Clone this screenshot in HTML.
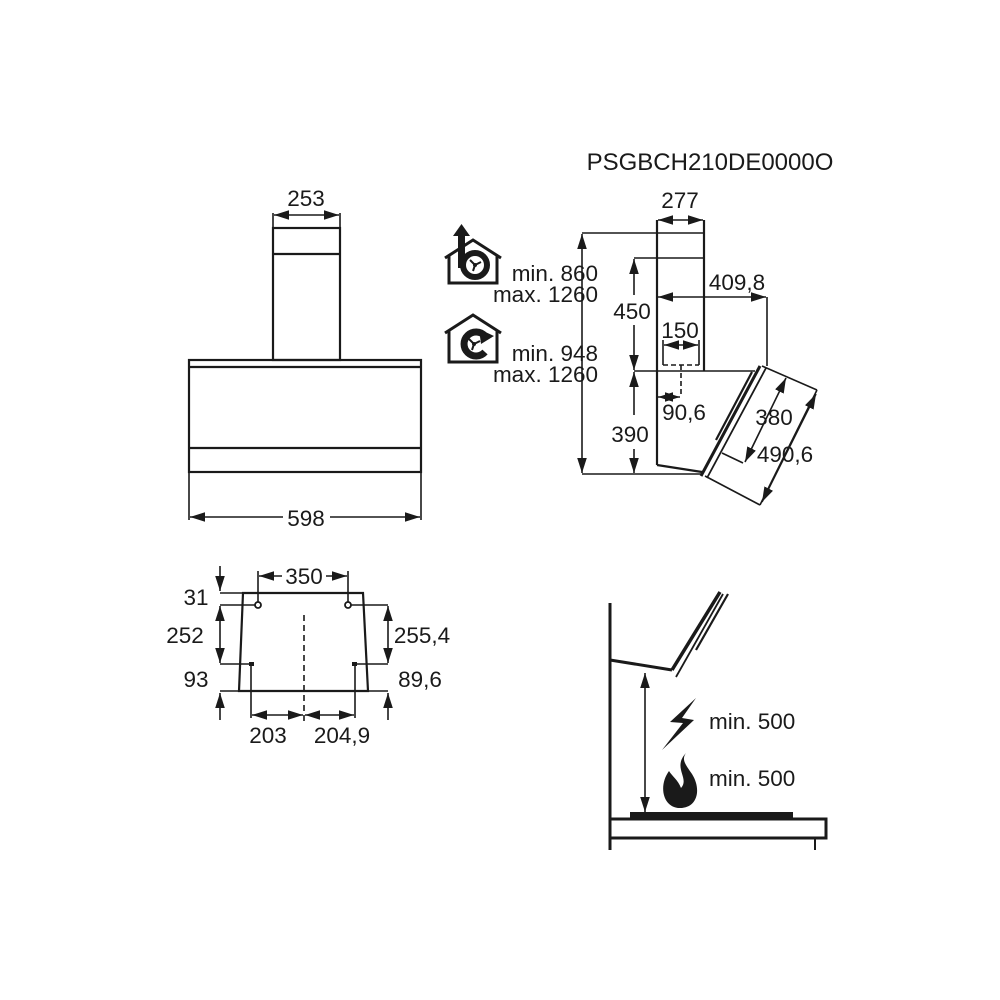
<!DOCTYPE html>
<html><head><meta charset="utf-8"><style>
html,body{margin:0;padding:0;background:#fff}
svg{display:block}
text{font-family:"Liberation Sans",sans-serif;fill:#1a1a1a}
</style></head><body>
<svg width="1000" height="1000" viewBox="0 0 1000 1000" xmlns="http://www.w3.org/2000/svg">
<defs>
<marker id="a" viewBox="0 0 10 10" refX="10" refY="5" markerWidth="15" markerHeight="15" markerUnits="userSpaceOnUse" orient="auto-start-reverse"><path d="M0,1.8 L10,5 L0,8.2 z" fill="#1a1a1a"/></marker>
</defs>
<g stroke="#1a1a1a" fill="none" stroke-width="1.6">
<!-- front view -->
<rect x="273" y="228" width="67" height="132" stroke-width="2.2"/>
<line x1="273" y1="254" x2="340" y2="254" stroke-width="2.2"/>
<rect x="189" y="360" width="232" height="112" stroke-width="2.2"/>
<line x1="189" y1="367" x2="421" y2="367" stroke-width="2.2"/>
<line x1="189" y1="448" x2="421" y2="448" stroke-width="2.2"/>
<line x1="273" y1="213" x2="273" y2="228"/><line x1="340" y1="213" x2="340" y2="228"/>
<line x1="274" y1="215" x2="339" y2="215" marker-start="url(#a)" marker-end="url(#a)"/>
<line x1="189" y1="472" x2="189" y2="520"/><line x1="421" y1="472" x2="421" y2="520"/>
<line x1="190" y1="517" x2="283" y2="517" marker-start="url(#a)"/>
<line x1="330" y1="517" x2="420" y2="517" marker-end="url(#a)"/>

<!-- side view -->
<line x1="657" y1="220" x2="657" y2="465" stroke-width="2.2"/>
<line x1="704" y1="220" x2="704" y2="371" stroke-width="2.2"/>
<line x1="658" y1="220" x2="703" y2="220" marker-start="url(#a)" marker-end="url(#a)"/>
<line x1="582" y1="233" x2="704" y2="233"/>
<line x1="634" y1="258" x2="704" y2="258"/>
<line x1="634" y1="371" x2="755" y2="371"/>
<line x1="582" y1="474" x2="702" y2="474"/>
<line x1="657" y1="465" x2="702" y2="472" stroke-width="2.2"/>
<line x1="658" y1="297" x2="766" y2="297" marker-start="url(#a)" marker-end="url(#a)"/>
<line x1="767" y1="297" x2="767" y2="366"/>
<line x1="663" y1="340" x2="663" y2="365"/><line x1="699" y1="340" x2="699" y2="365"/>
<line x1="664" y1="345" x2="698" y2="345" marker-start="url(#a)" marker-end="url(#a)"/>
<line x1="663" y1="365" x2="699" y2="365" stroke-dasharray="5,3"/>
<line x1="681" y1="365" x2="681" y2="397" stroke-dasharray="5,3"/>
<line x1="658" y1="397" x2="680" y2="397" marker-start="url(#a)" marker-end="url(#a)"/>
<line x1="634" y1="259" x2="634" y2="295" marker-start="url(#a)"/>
<line x1="634" y1="325" x2="634" y2="370" marker-end="url(#a)"/>
<line x1="634" y1="372" x2="634" y2="415" marker-start="url(#a)"/>
<line x1="634" y1="449" x2="634" y2="473" marker-end="url(#a)"/>
<line x1="582" y1="234" x2="582" y2="473" marker-start="url(#a)" marker-end="url(#a)"/>
<!-- glass -->
<line x1="760" y1="366" x2="701" y2="476" stroke-width="3"/>
<line x1="766" y1="368" x2="707" y2="478" stroke-width="1.8"/>
<line x1="752" y1="372" x2="716" y2="440" stroke-width="2.2"/>
<line x1="762" y1="366" x2="817" y2="390"/>
<line x1="817" y1="390" x2="760" y2="505"/>
<line x1="760" y1="505" x2="705" y2="476"/>
<line x1="722" y1="453" x2="743" y2="463"/>
<line x1="786" y1="378" x2="745" y2="462" marker-start="url(#a)" marker-end="url(#a)"/>
<line x1="816" y1="394" x2="762" y2="502" marker-start="url(#a)" marker-end="url(#a)"/>

<!-- icons -->
<path d="M445,258 L473,240 L501,258 M449,255 V283 H497 V255" stroke-width="3"/>
<path d="M445,333 L473,315 L501,333 M449,330 V362 H497 V330" stroke-width="3"/>
</g>
<g fill="#1a1a1a">
<rect x="458" y="234" width="7" height="34"/>
<path d="M453,236 L461.5,224 L470,236 z"/>
<circle cx="475" cy="265" r="12" fill="none" stroke="#1a1a1a" stroke-width="6"/>
<circle cx="475" cy="265" r="2"/>
<path d="M475,265 l-5,-5 M475,265 l6,-3 M475,265 l-2,6" stroke="#1a1a1a" stroke-width="2"/>
<path d="M485,336 A12,12 0 1 0 485,352" fill="none" stroke="#1a1a1a" stroke-width="7"/>
<path d="M479,329 L494,336 L481,344 z"/>
<circle cx="474" cy="344" r="2"/>
<path d="M474,344 l-5,-5 M474,344 l6,-3 M474,344 l-2,6" stroke="#1a1a1a" stroke-width="2"/>
</g>

<!-- bottom-left -->
<g stroke="#1a1a1a" fill="none" stroke-width="1.6">
<path d="M243,593 L363,593 L368,691 L239,691 Z" stroke-width="2.2"/>
<circle cx="258" cy="605" r="3" stroke-width="1.8"/>
<circle cx="348" cy="605" r="3" stroke-width="1.8"/>
<line x1="304" y1="615" x2="304" y2="725" stroke-dasharray="6,4"/>
<line x1="258" y1="571" x2="258" y2="602"/><line x1="348" y1="571" x2="348" y2="602"/>
<line x1="259" y1="576" x2="282" y2="576" marker-start="url(#a)"/>
<line x1="326" y1="576" x2="347" y2="576" marker-end="url(#a)"/>
<line x1="220" y1="566" x2="220" y2="591" marker-end="url(#a)"/>
<line x1="220" y1="593" x2="243" y2="593"/>
<line x1="220" y1="605" x2="255" y2="605"/>
<line x1="220" y1="606" x2="220" y2="663" marker-start="url(#a)" marker-end="url(#a)"/>
<line x1="220" y1="664" x2="251" y2="664"/>
<line x1="220" y1="691" x2="239" y2="691"/>
<line x1="220" y1="720" x2="220" y2="693" marker-end="url(#a)"/>
<line x1="351" y1="605" x2="388" y2="605"/>
<line x1="388" y1="606" x2="388" y2="663" marker-start="url(#a)" marker-end="url(#a)"/>
<line x1="355" y1="664" x2="388" y2="664"/>
<line x1="368" y1="691" x2="388" y2="691"/>
<line x1="388" y1="720" x2="388" y2="693" marker-end="url(#a)"/>
<line x1="251" y1="664" x2="251" y2="718"/><line x1="355" y1="664" x2="355" y2="718"/>
<line x1="252" y1="715" x2="303" y2="715" marker-start="url(#a)" marker-end="url(#a)"/>
<line x1="305" y1="715" x2="354" y2="715" marker-start="url(#a)" marker-end="url(#a)"/>
</g>
<rect x="249" y="662" width="5" height="4" fill="#1a1a1a"/>
<rect x="352" y="662" width="5" height="4" fill="#1a1a1a"/>

<!-- bottom-right -->
<g stroke="#1a1a1a" fill="none">
<line x1="610" y1="603" x2="610" y2="850" stroke-width="3"/>
<line x1="610" y1="660" x2="672" y2="670" stroke-width="3"/>
<line x1="672" y1="670" x2="720" y2="592" stroke-width="3.5"/>
<line x1="676" y1="677" x2="723" y2="594" stroke-width="1.8"/>
<line x1="696" y1="650" x2="728" y2="594" stroke-width="2.2"/>
<line x1="645" y1="673" x2="645" y2="812" stroke-width="1.6" marker-start="url(#a)" marker-end="url(#a)"/>
<rect x="610" y="819" width="216" height="19" stroke-width="3"/>
<line x1="815" y1="838" x2="815" y2="850" stroke-width="2"/>
</g>
<rect x="630" y="812" width="163" height="7" fill="#1a1a1a"/>
<path d="M696,698 L670,722 L683,723 L662,750 L694,720 L682,718 Z" fill="#1a1a1a"/>
<path d="M686,753 C672,768 690,778 681,788 C678,780 672,776 669,771 C658,786 663,808 680,808 C697,808 702,790 692,774 C686,765 681,760 686,753 Z" fill="#1a1a1a"/>

<g font-size="22.5">
<text x="306" y="206" text-anchor="middle">253</text>
<text x="306" y="526" text-anchor="middle">598</text>
<text x="710" y="170" text-anchor="middle" font-size="24">PSGBCH210DE0000O</text>
<text x="680" y="208" text-anchor="middle">277</text>
<text x="737" y="290" text-anchor="middle">409,8</text>
<text x="632" y="319" text-anchor="middle">450</text>
<text x="680" y="338" text-anchor="middle">150</text>
<text x="684" y="420" text-anchor="middle">90,6</text>
<text x="630" y="442" text-anchor="middle">390</text>
<text x="774" y="425" text-anchor="middle">380</text>
<text x="785" y="462" text-anchor="middle">490,6</text>
<text x="598" y="281" text-anchor="end">min. 860</text>
<text x="598" y="302" text-anchor="end">max. 1260</text>
<text x="598" y="361" text-anchor="end">min. 948</text>
<text x="598" y="382" text-anchor="end">max. 1260</text>
<text x="304" y="584" text-anchor="middle">350</text>
<text x="196" y="605" text-anchor="middle">31</text>
<text x="185" y="643" text-anchor="middle">252</text>
<text x="196" y="687" text-anchor="middle">93</text>
<text x="422" y="643" text-anchor="middle">255,4</text>
<text x="420" y="687" text-anchor="middle">89,6</text>
<text x="268" y="743" text-anchor="middle">203</text>
<text x="342" y="743" text-anchor="middle">204,9</text>
<text x="709" y="729">min. 500</text>
<text x="709" y="786">min. 500</text>
</g>
</svg>
</body></html>
